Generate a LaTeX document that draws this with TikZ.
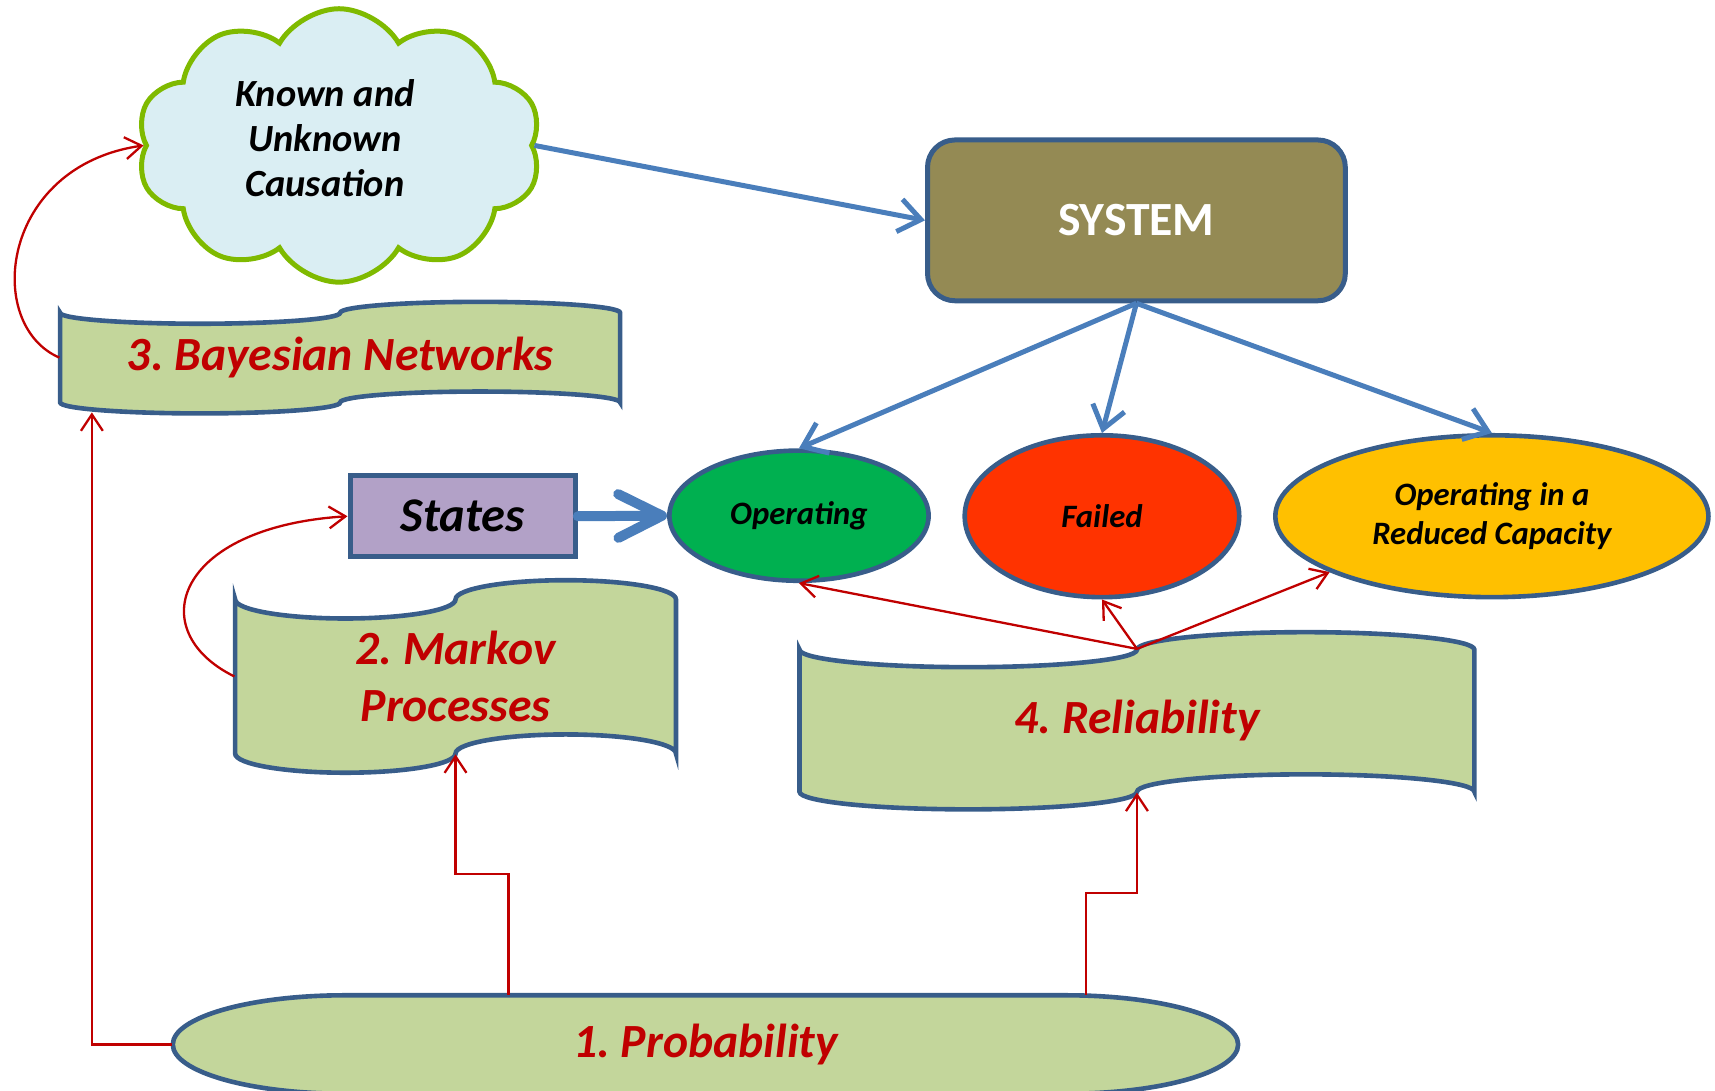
\documentclass[tikz,border=0pt]{standalone}
\usepackage{fontspec}
\setmainfont{Carlito}
\frenchspacing
\usetikzlibrary{arrows.meta,shapes.geometric,shapes.symbols,fit}

\definecolor{tapegreen}{HTML}{C3D69B}
\definecolor{edgeblue}{HTML}{385D8A}
\definecolor{linkblue}{HTML}{4A7EBB}
\definecolor{darkred}{HTML}{C00000}
\definecolor{sysolive}{HTML}{948A54}
\definecolor{lavender}{HTML}{B2A1C7}
\definecolor{okgreen}{HTML}{00B050}
\definecolor{failred}{HTML}{FF3300}
\definecolor{amber}{HTML}{FFC000}
\definecolor{skyfill}{HTML}{DAEEF3}
\definecolor{leafgreen}{HTML}{7FBA00}

\tikzset{
  tapebox/.style={draw=edgeblue, fill=tapegreen, line width=1.2pt},
  topic/.style={text=darkred, font=\fontsize{12.4}{14.8}\selectfont\bfseries\itshape, align=center},
  state/.style={ellipse, draw=edgeblue, line width=1.2pt, align=center,
    font=\fontsize{8.5}{10}\selectfont\bfseries\itshape},
  flow/.style={draw=linkblue, line width=1.3pt, -{Straight Barb[length=2mm,width=3mm]}},
  feed/.style={draw=darkred, line width=0.6pt, -{Straight Barb[length=1.5mm,width=2mm]}},
}

% punched tape outline: left, right, upper line, lower line, wave depth
\newcommand{\tapepath}[5]{%
  \pgfmathsetmacro{\tq}{(#2-#1)/4}
  \draw[tapebox] (#1,#3)
    arc[start angle=180, end angle=360, x radius=\tq, y radius=#5]
    arc[start angle=180, end angle=0, x radius=\tq, y radius=#5]
    -- (#2,#4)
    arc[start angle=0, end angle=180, x radius=\tq, y radius=#5]
    arc[start angle=360, end angle=180, x radius=\tq, y radius=#5]
    -- cycle;
}

\begin{document}
\begin{tikzpicture}
\useasboundingbox (0,0) rectangle (15.68,9.97);

% cloud and system
\node[cloud, cloud puffs=10, cloud puff arc=120, aspect=1.48, draw=leafgreen, fill=skyfill,
  line width=1.3pt, minimum width=3.7cm, minimum height=2.5cm] (cause) at (3.10,8.64) {};
\node[font=\fontsize{10}{11.7}\selectfont\bfseries\itshape, align=center] (cause-txt) at (2.97,8.71)
  {Known and\\Unknown\\Causation};

\node[draw=edgeblue, fill=sysolive, line width=1.3pt, rounded corners=0.25cm,
  minimum width=3.82cm, minimum height=1.47cm, text=white,
  font=\fontsize{12.4}{15}\selectfont\bfseries] (system) at (10.39,7.955) {SYSTEM};

% states
\node[draw=edgeblue, fill=lavender, line width=1.3pt, minimum width=2.06cm, minimum height=0.74cm,
  font=\fontsize{12.6}{15}\selectfont\bfseries\itshape] (states) at (4.23,5.25) {States};

\node[state, fill=okgreen, minimum width=2.37cm, minimum height=1.19cm] (oper) at (7.305,5.255) {Operating};
\node[state, fill=failred, minimum width=2.51cm, minimum height=1.48cm] (failed) at (10.075,5.25) {Failed};
\node[state, fill=amber, minimum width=3.96cm, minimum height=1.48cm] (reduced) at (13.64,5.25)
  {Operating in a\\Reduced Capacity};

% the four topics
\tapepath{0.55}{5.67}{7.11}{6.29}{0.10}
\node[fit={(0.55,6.29) (5.67,7.11)}, inner sep=0pt] (bayes) {};
\node[topic] (bayes-txt) at (bayes.center) {3. Bayesian Networks};

\tapepath{2.15}{6.18}{4.49}{3.08}{0.175}
\node[fit={(2.15,3.08) (6.18,4.49)}, inner sep=0pt] (markov) {};
\node[topic] (markov-txt) at (markov.center) {2. Markov\\Processes};

\tapepath{7.31}{13.48}{4.03}{2.73}{0.16}
\node[fit={(7.31,2.73) (13.48,4.03)}, inner sep=0pt] (rel) {};
\node[topic] (rel-txt) at (rel.center) {4. Reliability};

\draw[tapebox] (3.15,0.87) -- (9.75,0.87)
  arc[start angle=90, end angle=-90, x radius=1.57, y radius=0.45]
  -- (3.15,-0.03)
  arc[start angle=270, end angle=90, x radius=1.57, y radius=0.45] -- cycle;
\node[fit={(1.58,-0.03) (11.32,0.87)}, inner sep=0pt] (prob) {};
\node[topic] (prob-txt) at (prob.center) {1. Probability};

% blue flow
\draw[flow] (cause.east) -- (system.west);
\draw[flow] (system.south) -- (oper.north);
\draw[flow] (system.south) -- (failed.north);
\draw[flow] (system.south) -- (reduced.north);
\draw[draw=linkblue, line width=2.6pt, line cap=round,
  -{Straight Barb[length=4mm,width=4mm,round]}] (states.east) -- (oper.west);

% red links
\draw[feed] (rel.north) -- (oper.south);
\draw[feed] (rel.north) -- (failed.south);
\draw[feed] (rel.north) -- (reduced.199);
\draw[feed] (bayes.west) .. controls (-0.15,7.0) and (0.0,8.45) .. (cause.west);
\draw[feed] (markov.west) .. controls (1.3,4.2) and (1.6,5.15) .. (states.west);

\coordinate (bayes-in) at (0.84,6.20);
\draw[feed] (prob.west) -| (bayes-in);
\draw[feed] ([xshift=-1.8cm]prob.north) -- ++(0,1.10) -| (markov.south);
\draw[feed] ([xshift=3.48cm]prob.north) -- ++(0,0.93) -| (rel.south);

\end{tikzpicture}
\end{document}
